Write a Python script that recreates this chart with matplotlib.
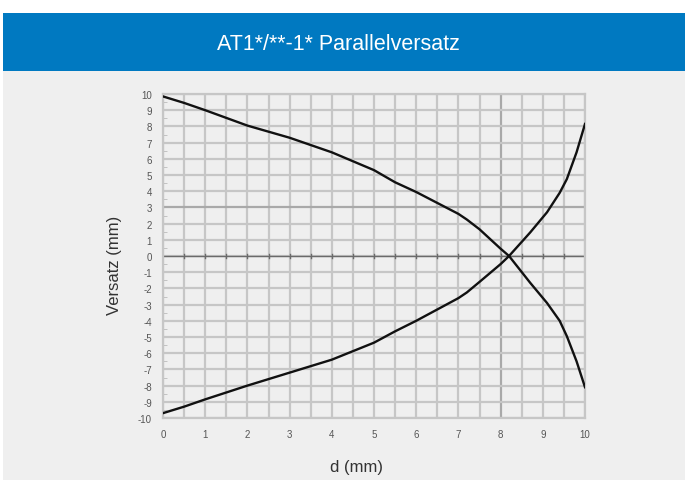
import matplotlib.pyplot as plt
import numpy as np

# values
d_upper = [0, 0.5, 1, 2, 3, 4, 5, 5.5, 6, 7, 7.2, 7.5, 8, 8.2, 8.7, 9.1, 9.4, 9.57, 9.8, 10]
v_upper = [9.85, 9.45, 9.0, 8.05, 7.3, 6.4, 5.3, 4.55, 3.95, 2.6, 2.25, 1.65, 0.45, 0.0, -1.65, -2.9, -4.0, -4.95, -6.5, -8.1]

d_lower = [0, 0.5, 1, 2, 3, 4, 5, 5.5, 6, 7, 7.2, 7.5, 8, 8.2, 8.7, 9.1, 9.4, 9.57, 9.8, 10]
v_lower = [-9.7, -9.3, -8.85, -8.0, -7.2, -6.4, -5.35, -4.65, -4.0, -2.6, -2.25, -1.6, -0.5, 0.0, 1.45, 2.7, 3.9, 4.75, 6.4, 8.15]

x_ticks = list(range(0, 11))
y_ticks = list(range(-10, 11))

title = "AT1*/**-1* Parallelversatz"
bg = '#efefef'
blue = '#0079c1'
grid_col = '#c6c6c6'

plt.rcParams['font.family'] = ['Liberation Sans', 'DejaVu Sans']

fig = plt.figure(figsize=(6.85, 4.81), dpi=100, facecolor='white')

# grey panel and blue header (behind the axes)
fig.patches.append(plt.Rectangle((3 / 685, 0), 1, 1 - 72 / 481, transform=fig.transFigure,
                                 facecolor=bg, edgecolor='none', zorder=-2))
fig.patches.append(plt.Rectangle((3 / 685, 1 - 72 / 481), 1, 58 / 481, transform=fig.transFigure,
                                 facecolor=blue, edgecolor='none', zorder=-2))
fig.text(338 / 685, 1 - 45 / 481, title, color='white', fontsize=15.5,
         ha='center', va='center')

ax = fig.add_axes([163 / 685, 1 - 419 / 481, 422 / 685, 324 / 481])
ax.set_facecolor(bg)
ax.set_xlim(0, 10)
ax.set_ylim(-10, 10)

# grid
for xv in np.arange(0, 10.01, 0.5):
    c = '#a9a9a9' if xv == 8 else grid_col
    ax.axvline(xv, color=c, lw=1.6, zorder=1)
for yv in y_ticks:
    c = '#a9a9a9' if yv == 3 else grid_col
    ax.axhline(yv, color=c, lw=1.6, zorder=1)
ax.axhline(0, color='#6a6a6a', lw=1.0, zorder=2)
for xv in np.arange(0.5, 10, 0.5):
    ax.plot([xv, xv], [-0.12, 0.12], color='#6a6a6a', lw=1.0, zorder=2)

ax.plot(d_upper, v_upper, color='#111111', lw=1.7, zorder=3)
ax.plot(d_lower, v_lower, color='#111111', lw=1.7, zorder=3)

for s in ax.spines.values():
    s.set_color(grid_col)
    s.set_linewidth(1.6)

ax.set_xticks(x_ticks)
ax.set_xticklabels([str(v) for v in x_ticks])
ax.set_yticks(y_ticks)
ax.set_yticklabels([str(v) for v in y_ticks])
ax.set_yticks(np.arange(-9.5, 10, 1), minor=True)
ax.tick_params(axis='both', which='major', length=0, labelsize=7, labelcolor='#555555', pad=8)
ax.tick_params(axis='y', which='minor', length=3, color='#bbbbbb', direction='in')

fig.text(115 / 685, 1 - 265 / 481, 'Versatz (mm)', rotation=90, fontsize=12,
         color='#333333', ha='center', va='center')
fig.text(356 / 685, 1 - 468 / 481, 'd (mm)', fontsize=12,
         color='#333333', ha='center', va='center')

fig.savefig('out.png', dpi=100, facecolor='white')
